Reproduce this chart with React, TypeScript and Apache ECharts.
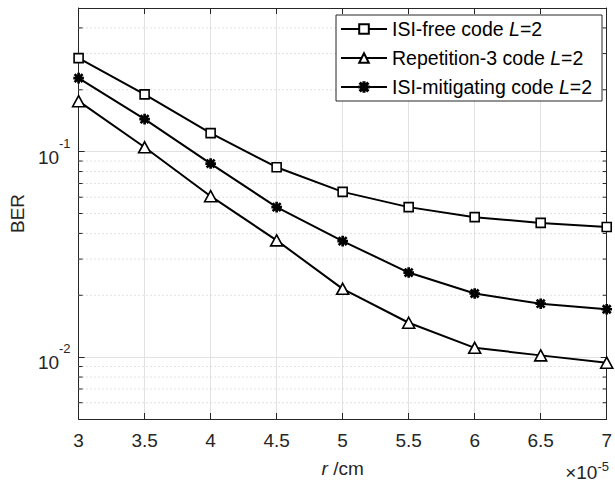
import React, { useEffect, useRef } from "react";
import * as echarts from "echarts";

// r in units of 1e-5 cm
const rValues = [3, 3.5, 4, 4.5, 5, 5.5, 6, 6.5, 7];
const isiFree = [0.285, 0.19, 0.123, 0.084, 0.0637, 0.0537, 0.048, 0.045, 0.043];
const repetition3 = [0.176, 0.105, 0.0607, 0.037, 0.0215, 0.0147, 0.0111, 0.0102, 0.0094];
const isiMitigating = [0.228, 0.144, 0.0875, 0.0537, 0.0367, 0.0258, 0.0204, 0.0182, 0.0171];

const seriesNames = ["ISI-free code L=2", "Repetition-3 code L=2", "ISI-mitigating code L=2"];
const legendLabels = [
  "{n|ISI-free code }{i|L}{n|=2}",
  "{n|Repetition-3 code }{i|L}{n|=2}",
  "{n|ISI-mitigating code }{i|L}{n|=2}",
];
const minorTicks = [
  0.006, 0.007, 0.008, 0.009, 0.02, 0.03, 0.04, 0.05, 0.06, 0.07, 0.08, 0.09, 0.2, 0.3, 0.4,
];

const AXIS = "#262626";
const FONT = "Liberation Sans, Arial, Helvetica, sans-serif";
const STAR =
  "path://M0 4.4L10 4.4L10 5.6L0 5.6Z M4.4 0L5.6 0L5.6 10L4.4 10Z M0.8 1.6L1.6 0.8L9.2 8.4L8.4 9.2Z M8.4 0.8L9.2 1.6L1.6 9.2L0.8 8.4Z";

const pair = (ys: number[]) => rValues.map((x, i) => [x, ys[i]]);

export default function App() {
  const ref = useRef<HTMLDivElement>(null);
  useEffect(() => {
    if (!ref.current) return;
    const chart = echarts.init(ref.current, null, { renderer: "svg" });
    const isPow10 = (v: number) => Math.abs(Math.log10(v) - Math.round(Math.log10(v))) < 1e-6;
    const lineSeries = (name: string, ys: number[], symbol: string, size: number | number[], fill: string) => ({
      name,
      type: "line",
      data: pair(ys),
      symbol,
      symbolSize: size,
      showAllSymbol: true,
      lineStyle: { color: "#000", width: 2 },
      itemStyle: { color: fill, borderColor: "#000", borderWidth: 1.6 },
      z: 5,
    });
    chart.setOption({
      animation: false,
      backgroundColor: "#fff",
      textStyle: { fontFamily: FONT },
      grid: { left: 78, right: 4, top: 8, bottom: 66, containLabel: false },
      legend: {
        data: seriesNames,
        orient: "vertical",
        right: 13,
        top: 15,
        itemWidth: 46,
        itemHeight: 12,
        itemGap: 9,
        padding: [4, 10, 4, 4],
        backgroundColor: "#fff",
        borderColor: AXIS,
        borderWidth: 1,
        borderRadius: 0,
        formatter: (name: string) => legendLabels[seriesNames.indexOf(name)],
        textStyle: {
          rich: {
            n: { fontSize: 19.5, color: "#000", fontFamily: FONT, lineHeight: 19 },
            i: { fontSize: 19.5, color: "#000", fontFamily: FONT, fontStyle: "italic", lineHeight: 19 },
          },
        },
      },
      xAxis: [
        {
          type: "value",
          min: 3,
          max: 7,
          interval: 0.5,
          position: "bottom",
          name: "{i|r}{n| /cm}",
          nameLocation: "middle",
          nameGap: 40,
          nameTextStyle: {
            rich: {
              i: { fontSize: 19, fontStyle: "italic", color: AXIS, fontFamily: FONT },
              n: { fontSize: 19, color: AXIS, fontFamily: FONT },
            },
          },
          axisLine: { show: true, lineStyle: { color: AXIS, width: 1 } },
          axisTick: { show: true, inside: true, length: 6, lineStyle: { color: AXIS } },
          axisLabel: { fontSize: 19, color: AXIS, margin: 12, fontFamily: FONT },
          splitLine: { show: true, lineStyle: { color: "#e1e1e1", width: 1 } },
        },
        {
          type: "value",
          min: 3,
          max: 7,
          interval: 0.5,
          position: "top",
          axisLine: { show: true, lineStyle: { color: AXIS, width: 1 } },
          axisTick: { show: true, inside: true, length: 6, lineStyle: { color: AXIS } },
          axisLabel: { show: false },
          splitLine: { show: false },
        },
      ],
      yAxis: [
        {
          type: "log",
          logBase: 10,
          min: 0.005,
          max: 0.5,
          position: "left",
          name: "BER",
          nameLocation: "middle",
          nameGap: 51,
          nameTextStyle: { fontSize: 19, color: AXIS, fontFamily: FONT },
          axisLine: { show: true, lineStyle: { color: AXIS, width: 1 } },
          axisTick: { show: true, inside: true, length: 6, lineStyle: { color: AXIS } },
          axisLabel: {
            margin: 8,
            color: AXIS,
            formatter: (v: number) =>
              isPow10(v) ? `{b|10}{s|${Math.round(Math.log10(v))}}` : "",
            rich: {
              b: { fontSize: 19, color: AXIS, fontFamily: FONT, lineHeight: 30, verticalAlign: "bottom" },
              s: { fontSize: 13, color: AXIS, fontFamily: FONT, lineHeight: 13, verticalAlign: "top" },
            },
          },
          splitLine: { show: true, lineStyle: { color: "#e1e1e1", width: 1 } },
        },
        {
          type: "log",
          logBase: 10,
          min: 0.005,
          max: 0.5,
          position: "right",
          axisLine: { show: true, lineStyle: { color: AXIS, width: 1 } },
          axisTick: { show: true, inside: true, length: 6, lineStyle: { color: AXIS } },
          axisLabel: { show: false },
          splitLine: { show: false },
        },
      ],
      series: [
        {
          name: "minor",
          type: "custom",
          silent: true,
          z: 1,
          data: minorTicks.map((v) => [3, v]),
          encode: { x: 0, y: 1 },
          renderItem: (params: any, api: any) => {
            const y = api.coord([api.value(0), api.value(1)])[1];
            const cs = params.coordSys;
            const x0 = cs.x;
            const x1 = cs.x + cs.width;
            return {
              type: "group",
              children: [
                {
                  type: "line",
                  shape: { x1: x0, y1: y, x2: x1, y2: y },
                  style: { stroke: "#c4c4c4", lineWidth: 1, lineDash: [1, 3] },
                },
                {
                  type: "line",
                  shape: { x1: x0, y1: y, x2: x0 + 4, y2: y },
                  style: { stroke: AXIS, lineWidth: 1 },
                },
                {
                  type: "line",
                  shape: { x1: x1 - 4, y1: y, x2: x1, y2: y },
                  style: { stroke: AXIS, lineWidth: 1 },
                },
              ],
            };
          },
        },
        lineSeries(seriesNames[0], isiFree, "rect", 9, "#fff"),
        lineSeries(seriesNames[1], repetition3, "triangle", [12, 11], "#fff"),
        lineSeries(seriesNames[2], isiMitigating, STAR, 9, "#000"),
      ],
      graphic: [
        {
          type: "text",
          right: 6,
          top: 460,
          style: {
            text: "{m|\u00d710}{s|-5}",
            fill: AXIS,
            rich: {
              m: { fontSize: 19, fill: AXIS, fontFamily: FONT, lineHeight: 22, verticalAlign: "bottom" },
              s: { fontSize: 13, fill: AXIS, fontFamily: FONT, lineHeight: 13, verticalAlign: "top" },
            },
          },
        },
      ],
    });
    return () => chart.dispose();
  }, []);
  return (
    <div
      ref={ref}
      style={{ position: "fixed", left: 0, top: 0, width: 615, height: 485, background: "#fff" }}
    />
  );
}
